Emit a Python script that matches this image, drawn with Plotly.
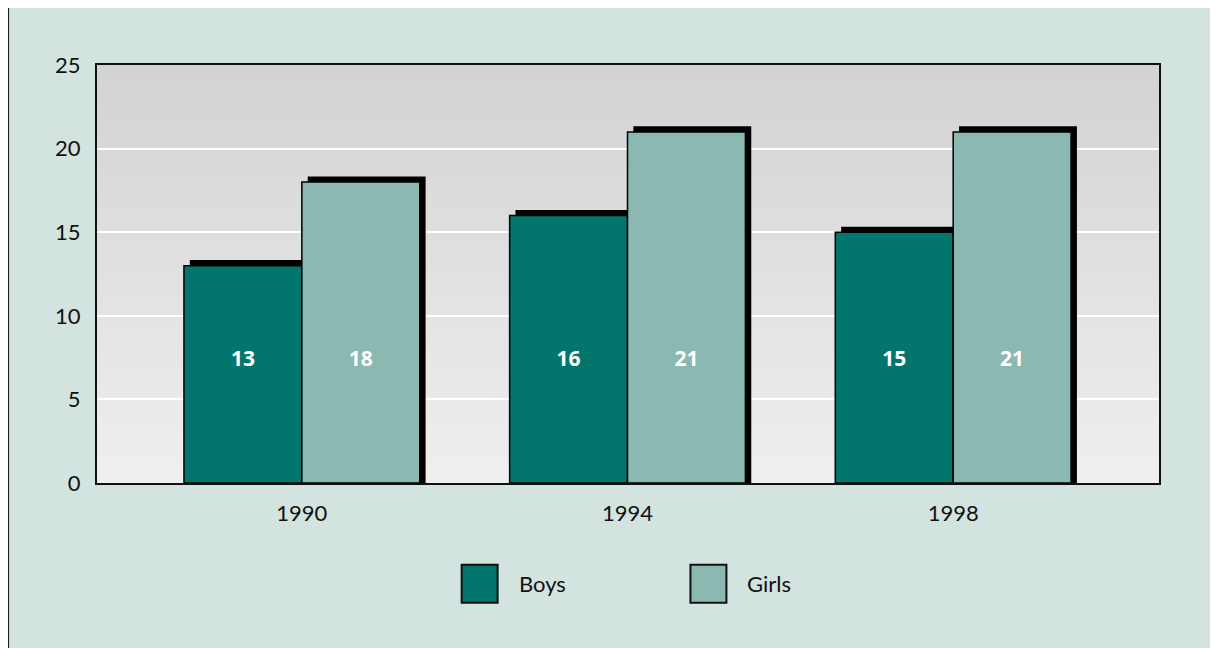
import plotly.graph_objects as go

years = ["1990", "1994", "1998"]
boys = [13, 16, 15]
girls = [18, 21, 21]
label_y = 7.3

boys_color = "#02766c"
girls_color = "#8cb8b2"
bg_color = "#d3e3df"

bar_w = 0.362
shadow_dx = 0.018
shadow_dy = 0.33
xpos = list(range(len(years)))

fig = go.Figure()

# black drop shadows behind the bars
fig.add_trace(go.Bar(x=xpos, y=[v + shadow_dy for v in boys], width=bar_w, offset=-bar_w + shadow_dx,
                     marker=dict(color="black", line=dict(width=0)), hoverinfo="skip"))
fig.add_trace(go.Bar(x=xpos, y=[v + shadow_dy for v in girls], width=bar_w, offset=shadow_dx,
                     marker=dict(color="black", line=dict(width=0)), hoverinfo="skip"))

fig.add_trace(go.Bar(x=xpos, y=boys, width=bar_w, offset=-bar_w, name="Boys",
                     marker=dict(color=boys_color, line=dict(color="black", width=1.5))))
fig.add_trace(go.Bar(x=xpos, y=girls, width=bar_w, offset=0, name="Girls",
                     marker=dict(color=girls_color, line=dict(color="black", width=1.5))))

# value labels
fig.add_trace(go.Scatter(
    x=[x - bar_w / 2 for x in xpos] + [x + bar_w / 2 for x in xpos],
    y=[label_y] * (2 * len(xpos)),
    text=[str(v) for v in boys] + [str(v) for v in girls],
    mode="text",
    textfont=dict(family="Open Sans", size=21, color="white", weight="bold"),
    hoverinfo="skip",
))

# vertical grey gradient for the plot area
shapes = []
n = 60
top = (211, 211, 211)
bot = (239, 239, 239)
for i in range(n):
    t = i / (n - 1)
    c = tuple(round(bot[k] + (top[k] - bot[k]) * t) for k in range(3))
    shapes.append(dict(type="rect", xref="paper", yref="paper", x0=0, x1=1,
                       y0=i / n, y1=(i + 1) / n + 0.002, layer="below",
                       fillcolor="rgb(%d,%d,%d)" % c, line=dict(width=0)))

# outer frame (only top and left edges fall inside the page)
shapes.append(dict(type="rect", xref="paper", yref="paper", x0=-0.0837, x1=1.2,
                   y0=-0.6, y1=1.1408, layer="below", line=dict(color="#222", width=2)))

# custom legend swatches
sw = 36 / 1063
sh = 38 / 419
for x0, col in [((461 - 96) / 1063, boys_color), ((690 - 96) / 1063, girls_color)]:
    shapes.append(dict(type="rect", xref="paper", yref="paper", x0=x0, x1=x0 + sw,
                       y0=(483 - 603) / 419, y1=(483 - 603) / 419 + sh,
                       fillcolor=col, line=dict(color="#111", width=2)))

annotations = [
    dict(text="Boys", xref="paper", yref="paper", x=(516 - 96) / 1063, y=(483 - 584) / 419,
         xanchor="left", yanchor="middle", showarrow=False,
         font=dict(family="Lato", size=22, color="#111")),
    dict(text="Girls", xref="paper", yref="paper", x=(745 - 96) / 1063, y=(483 - 584) / 419,
         xanchor="left", yanchor="middle", showarrow=False,
         font=dict(family="Lato", size=22, color="#111")),
]

fig.update_layout(
    width=1218, height=648,
    margin=dict(l=89, r=67, t=57, b=173),
    paper_bgcolor=bg_color,
    plot_bgcolor="#e8e8e8",
    barmode="overlay",
    showlegend=False,
    shapes=shapes,
    annotations=annotations,
    font=dict(family="Lato", size=22, color="#111"),
    xaxis=dict(range=[-0.629, 2.632], tickvals=xpos, ticktext=years, showgrid=False,
               zeroline=False, showline=True, linecolor="#111", linewidth=2, mirror=True,
               ticks="", ticklabelstandoff=10, fixedrange=True),
    yaxis=dict(range=[0, 25], dtick=5, showgrid=True, gridcolor="white", gridwidth=2,
               zeroline=False, showline=True, linecolor="#111", linewidth=2, mirror=True,
               ticks="", ticklabelstandoff=10, fixedrange=True),
)

fig.write_html("out.html")
